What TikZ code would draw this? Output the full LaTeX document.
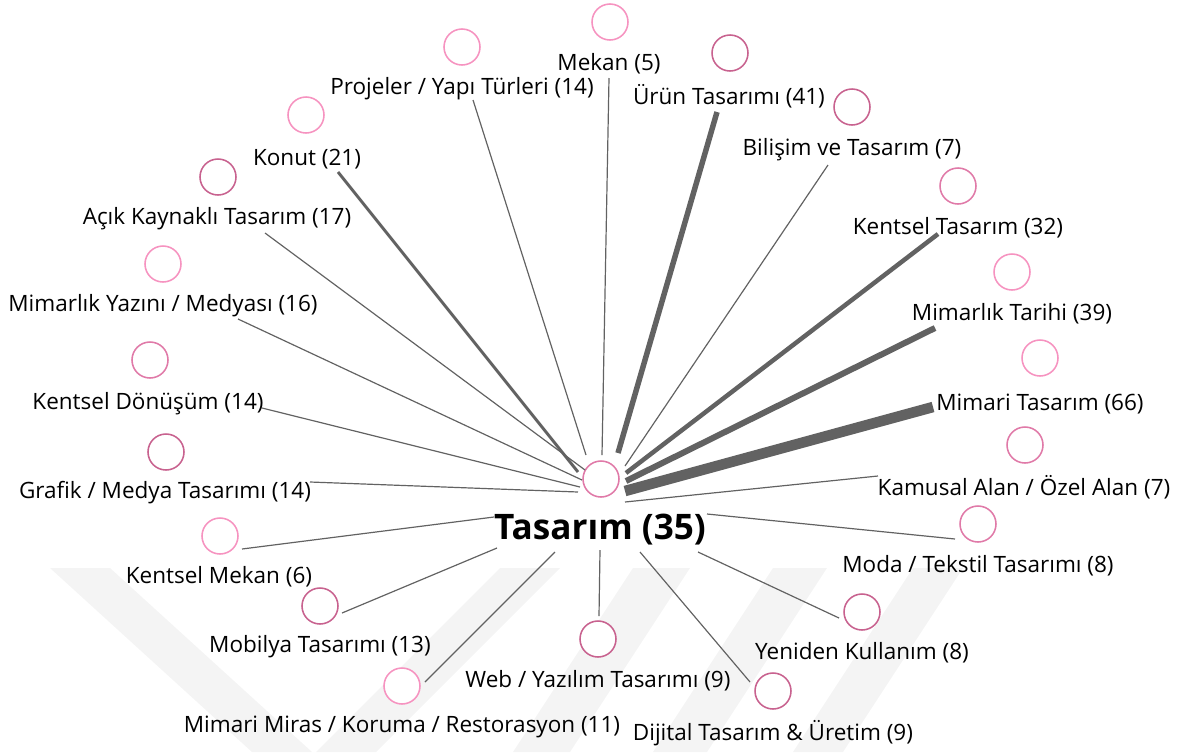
\documentclass[tikz,border=0pt]{standalone}
\usepackage{fontspec}
\setmainfont{Open Sans}
\definecolor{pkL}{HTML}{F693C0}
\definecolor{pkM}{HTML}{E07AA8}
\definecolor{pkD}{HTML}{C8628F}
\definecolor{edgec}{HTML}{626262}
\definecolor{wmc}{HTML}{F4F4F4}
\begin{document}
\begin{tikzpicture}[x=0.025cm,y=-0.025cm,
  circ/.style={circle,draw=#1,line width=1.1pt,minimum size=0.9cm,inner sep=0pt,fill=white},
  lbl/.style={font=\fontsize{16}{19}\selectfont,inner sep=0pt,text=black},
  hublbl/.style={font=\fontsize{25}{30}\selectfont\bfseries,inner sep=0pt,text=black},
  edge/.style={draw=edgec,line width=#1},
  edge/.default=0.85pt,
  wm/.style={fill=wmc,draw=none}]
\useasboundingbox (0,0) rectangle (1184,752);
% faint watermark
\fill[wm] (50,568) -- (110,568) -- (312,752) -- (252,752) -- cycle;
\fill[wm] (500,568) -- (560,568) -- (376,752) -- (316,752) -- cycle;
\fill[wm] (633,568) -- (690,568) -- (570,752) -- (513,752) -- cycle;
\fill[wm] (773,568) -- (827,568) -- (707,752) -- (653,752) -- cycle;
\fill[wm] (913,568) -- (963,568) -- (843,752) -- (793,752) -- cycle;
% hub
\node[circ=pkM] (hub) at (601,479) {};
\node[hublbl] (hubl) at (600,530) {Tasarım (35)};
% outer circles
\node[circ=pkL] (c1) at (610,22) {};
\node[circ=pkL] (c2) at (462,47) {};
\node[circ=pkD] (c3) at (730,53) {};
\node[circ=pkD] (c4) at (852,107) {};
\node[circ=pkM] (c5) at (958,186) {};
\node[circ=pkL] (c6) at (1012,272) {};
\node[circ=pkL] (c7) at (1040,358) {};
\node[circ=pkM] (c8) at (1025,445) {};
\node[circ=pkM] (c9) at (978,524) {};
\node[circ=pkD] (c10) at (862,612) {};
\node[circ=pkD] (c11) at (773,691) {};
\node[circ=pkD] (c12) at (598,639) {};
\node[circ=pkL] (c13) at (402,686) {};
\node[circ=pkD] (c14) at (320,606) {};
\node[circ=pkL] (c15) at (220,536) {};
\node[circ=pkD] (c16) at (166,452) {};
\node[circ=pkM] (c17) at (150,360) {};
\node[circ=pkL] (c18) at (163,264) {};
\node[circ=pkD] (c19) at (218,177) {};
\node[circ=pkL] (c20) at (306,115) {};
% labels
\node[lbl] (l1) at (609,64) {Mekan (5)};
\node[lbl] (l2) at (462,89) {Projeler / Yapı Türleri (14)};
\node[lbl] (l3) at (729,96) {Ürün Tasarımı (41)};
\node[lbl] (l4) at (852,150) {Bilişim ve Tasarım (7)};
\node[lbl] (l5) at (958,228) {Kentsel Tasarım (32)};
\node[lbl] (l6) at (1012,314) {Mimarlık Tarihi (39)};
\node[lbl] (l7) at (1040,404) {Mimari Tasarım (66)};
\node[lbl] (l8) at (1024,487) {Kamusal Alan / Özel Alan (7)};
\node[lbl] (l9) at (978,566) {Moda / Tekstil Tasarımı (8)};
\node[lbl] (l10) at (862,653) {Yeniden Kullanım (8)};
\node[lbl] (l11) at (773,733) {Dijital Tasarım \& Üretim (9)};
\node[lbl] (l12) at (598,681) {Web / Yazılım Tasarımı (9)};
\node[lbl] (l13) at (402,727) {Mimari Miras / Koruma / Restorasyon (11)};
\node[lbl] (l14) at (320,647) {Mobilya Tasarımı (13)};
\node[lbl] (l15) at (219,577) {Kentsel Mekan (6)};
\node[lbl] (l16) at (165,493) {Grafik / Medya Tasarımı (14)};
\node[lbl] (l17) at (148,404) {Kentsel Dönüşüm (14)};
\node[lbl] (l18) at (163,306) {Mimarlık Yazını / Medyası (16)};
\node[lbl] (l19) at (217,219) {Açık Kaynaklı Tasarım (17)};
\node[lbl] (l20) at (307,159) {Konut (21)};
% edge end points
\coordinate (a1) at (602,455); \coordinate (b1) at (609,78);
\coordinate (a2) at (586,455); \coordinate (b2) at (473,100);
\coordinate (a3) at (618,453); \coordinate (b3) at (717,112);
\coordinate (a4) at (625,466); \coordinate (b4) at (828,165);
\coordinate (a5) at (626,473); \coordinate (b5) at (938,234);
\coordinate (a6) at (626,481); \coordinate (b6) at (935,328);
\coordinate (a7) at (625,491); \coordinate (b7) at (933,407);
\coordinate (a8) at (625,502); \coordinate (b8) at (878,476);
\coordinate (a9) at (707,514); \coordinate (b9) at (955,539);
\coordinate (a10) at (698,552); \coordinate (b10) at (839,618);
\coordinate (a11) at (640,552); \coordinate (b11) at (750,682);
\coordinate (a12) at (600,550); \coordinate (b12) at (599,616);
\coordinate (a13) at (555,552); \coordinate (b13) at (425,682);
\coordinate (a14) at (497,548); \coordinate (b14) at (342,613);
\coordinate (a15) at (494,517); \coordinate (b15) at (242,549);
\coordinate (a16) at (578,492); \coordinate (b16) at (310,482);
\coordinate (a17) at (580,487); \coordinate (b17) at (262,408);
\coordinate (a18) at (582,480); \coordinate (b18) at (238,319);
\coordinate (a19) at (585,470); \coordinate (b19) at (265,233);
\coordinate (a20) at (578,472); \coordinate (b20) at (338,172);
% edges
\draw[edge] (a1) -- (b1);
\draw[edge] (a2) -- (b2);
\draw[edge=3.9pt] (a3) -- (b3);
\draw[edge] (a4) -- (b4);
\draw[edge=3.2pt] (a5) -- (b5);
\draw[edge=4.3pt] (a6) -- (b6);
\draw[edge=7.5pt] (a7) -- (b7);
\draw[edge] (a8) -- (b8);
\draw[edge] (a9) -- (b9);
\draw[edge] (a10) -- (b10);
\draw[edge] (a11) -- (b11);
\draw[edge] (a12) -- (b12);
\draw[edge] (a13) -- (b13);
\draw[edge] (a14) -- (b14);
\draw[edge] (a15) -- (b15);
\draw[edge] (a16) -- (b16);
\draw[edge] (a17) -- (b17);
\draw[edge] (a18) -- (b18);
\draw[edge] (a19) -- (b19);
\draw[edge=2.1pt] (a20) -- (b20);
\end{tikzpicture}
\end{document}
